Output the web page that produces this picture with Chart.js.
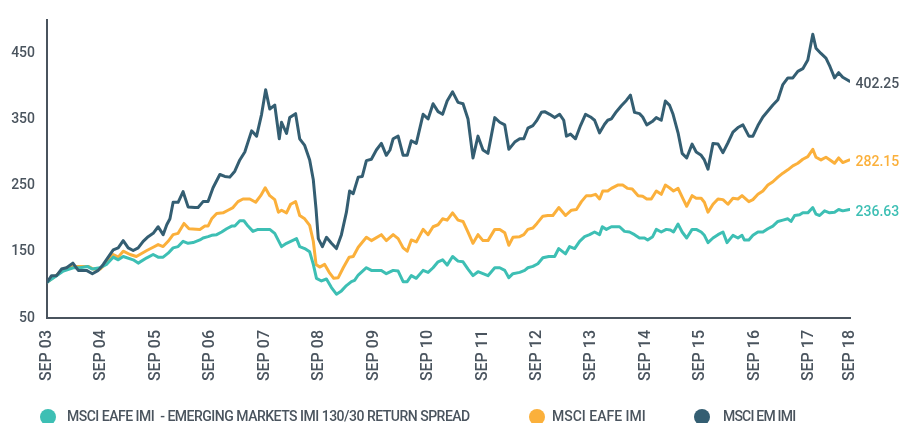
<!DOCTYPE html>
<html>
<head>
<meta charset="utf-8">
<script src="https://cdn.jsdelivr.net/npm/chart.js@4.4.1/dist/chart.umd.min.js"></script>
<style>
	html, body { margin: 0; padding: 0; background: #fff; }
	#wrap { position: relative; width: 903px; height: 423px; overflow: hidden; }
	#legend { position: absolute; left: 0; top: 408px; width: 903px; height: 16px; font: 500 14px Roboto, sans-serif; color: #4a545e; }
	.item { position: absolute; top: 0; height: 16px; line-height: 16px; white-space: pre; }
	.dot { position: absolute; top: 1px; width: 16px; height: 16px; border-radius: 50%; }
</style>
</head>
<body>
<div id="wrap">
	<canvas id="chart" width="903" height="423"></canvas>
	<div id="legend"></div>
</div>
<script>
// x values are months since Sep 2003
const tickMonths = [0, 12, 24, 36, 48, 60, 72, 84, 96, 108, 120, 132, 144, 156, 168, 177];
const tickLabels = ['SEP 03', 'SEP 04', 'SEP 05', 'SEP 06', 'SEP 07', 'SEP 08', 'SEP 09', 'SEP 10',
	'SEP 11', 'SEP 12', 'SEP 13', 'SEP 14', 'SEP 15', 'SEP 16', 'SEP 17', 'SEP 18'];
const yTicks = [50, 150, 250, 350, 450];

const seriesNames = ['MSCI EAFE IMI  - EMERGING MARKETS IMI 130/30 RETURN SPREAD', 'MSCI EAFE IMI', 'MSCI EM IMI'];
const endLabels = ['236.63', '282.15', '402.25'];

const spreadMonths = [0, 2.1, 3.6, 5.8, 7.3, 8.9, 10, 11.7, 13.1, 14.6,
	15.7, 16.8, 19, 20.1, 22, 23.4, 24.5, 25.6, 26.7, 27.8,
	28.9, 30, 31.1, 32.2, 33.7, 34.4, 35.5, 36.3, 37.4, 38.5,
	39.6, 40.7, 41.4, 42.5, 43.4, 44.3, 45.4, 46.5, 49.1, 50.2,
	51.7, 52.8, 55, 55.7, 56.8, 57.9, 58.7, 59.4, 60.5, 61.6,
	62.7, 63.8, 64.9, 66, 67.1, 67.8, 68.6, 70.4, 71.5, 73.7,
	74.8, 76.3, 77.4, 78.5, 79.4, 80.3, 81.4, 82.9, 84, 85.1,
	86.2, 87.2, 88.2, 89.4, 90.6, 91.7, 92.8, 93.9, 95, 96.1,
	97.2, 98.7, 99.8, 100.9, 101.8, 102.7, 104.2, 105.3, 106, 107.1,
	108.2, 109.3, 110.6, 111.9, 112.8, 114.3, 115.2, 116.3, 117.4, 118.5,
	119.6, 120.7, 121.8, 122.4, 123.3, 124.4, 126.2, 127.3, 128.4, 129.5,
	130.6, 131.7, 132.4, 133.5, 134.3, 135.4, 136.5, 137.4, 138.1, 139.1,
	140, 141, 142.2, 143.1, 144.2, 144.9, 145.7, 146.8, 147.9, 149,
	149.9, 151.2, 152.3, 153.2, 153.7, 154.7, 155.6, 156.7, 157.8, 158.9,
	160, 161.1, 162.2, 163.3, 164, 164.8, 165.9, 166.6, 167.7, 168.8,
	169.5, 170.3, 171.4, 172.5, 173.6, 174.5, 175.4, 176.9];
const spreadValues = [104, 114, 121, 126, 126, 128, 124, 126, 131, 142,
	138, 143, 138, 133, 141, 146, 142, 142, 148, 156,
	158, 166, 163, 164, 168, 171, 173, 175, 176, 180,
	185, 189, 189, 197, 197, 189, 181, 184, 184, 178,
	158, 163, 170, 158, 155, 150, 131, 110, 106, 109,
	96, 86, 91, 99, 105, 107, 115, 126, 122, 122,
	117, 122, 121, 105, 105, 114, 110, 122, 119, 126,
	135, 138, 130, 143, 136, 135, 124, 114, 120, 117,
	114, 126, 126, 122, 111, 117, 119, 122, 126, 128,
	132, 141, 143, 143, 155, 147, 158, 155, 166, 173,
	176, 180, 176, 188, 184, 188, 188, 181, 180, 176,
	171, 171, 168, 173, 184, 180, 184, 183, 180, 192,
	180, 171, 184, 184, 180, 175, 164, 171, 176, 180,
	164, 175, 171, 175, 168, 168, 175, 180, 180, 185,
	189, 196, 198, 200, 196, 205, 206, 209, 209, 217,
	207, 205, 212, 209, 210, 214, 212, 214];

const eafeMonths = [0, 1.4, 3.2, 4.3, 5.8, 9.1, 10.2, 11.7, 13.1, 14.6,
	15.7, 16.8, 18.3, 19.7, 22, 23.4, 24.5, 25.6, 26.7, 27.8,
	28.9, 30.2, 31.3, 33.7, 34.8, 35.5, 36.3, 37.4, 38.8, 39.9,
	41, 42.1, 43.2, 44.7, 46, 47.1, 48.1, 49.1, 50.2, 51,
	51.7, 52.8, 53.7, 54.8, 55.7, 56.8, 57.9, 58.7, 59.3, 60.1,
	61.2, 62.2, 63.2, 64.2, 65.3, 66.6, 67.5, 68.6, 70.4, 71.5,
	73.7, 74.8, 76.3, 77.4, 78.5, 79.4, 80.3, 81.4, 82.9, 84,
	85.1, 86.2, 87.2, 88.2, 89.4, 90.6, 91.7, 92.8, 93.9, 95,
	96.1, 97.2, 98.7, 99.8, 100.9, 101.8, 102.7, 104.2, 105.1, 106,
	107.1, 108, 109.3, 110.4, 111.5, 112.8, 114.3, 115.6, 116.7, 117.8,
	118.9, 120, 120.9, 121.8, 122.5, 123.6, 124.4, 125.8, 126.9, 128,
	129, 130.3, 131.3, 132.2, 133.2, 134.3, 135.4, 136.3, 137.2, 138.1,
	139.1, 140.2, 141, 142.2, 143.1, 144.2, 144.9, 145.7, 146.8, 147.9,
	149, 150.1, 151.2, 152.3, 153.2, 154.7, 155.6, 156.7, 157.8, 158.9,
	160, 161.1, 162.2, 163.3, 164.4, 165.5, 166.6, 167.7, 168.8, 169.5,
	170.6, 171.7, 172.6, 173.6, 174.5, 175.4, 176.9];
const eafeValues = [104, 111, 121, 126, 128, 128, 124, 124, 133, 146,
	142, 151, 146, 143, 152, 157, 161, 158, 166, 176,
	178, 193, 185, 184, 189, 189, 200, 208, 209, 213,
	217, 226, 230, 230, 225, 235, 247, 235, 229, 210,
	213, 209, 222, 226, 205, 200, 190, 166, 131, 127,
	131, 119, 110, 111, 126, 142, 143, 157, 172, 167,
	176, 167, 176, 170, 156, 151, 168, 165, 184, 176,
	188, 191, 200, 198, 209, 198, 196, 180, 163, 176,
	167, 167, 184, 184, 179, 160, 172, 173, 176, 184,
	186, 193, 204, 205, 205, 217, 205, 213, 214, 226,
	235, 235, 237, 230, 242, 242, 246, 251, 251, 246,
	245, 235, 234, 230, 230, 242, 237, 251, 247, 242,
	246, 230, 219, 235, 231, 231, 225, 210, 222, 230,
	229, 222, 231, 230, 235, 226, 229, 237, 242, 251,
	256, 263, 269, 274, 280, 284, 290, 294, 305, 293,
	289, 293, 289, 284, 292, 285, 289];

const emMonths = [0, 1, 2.1, 3.2, 4.3, 5.7, 6.9, 8.7, 10, 11.3,
	12.4, 13.5, 14.6, 15.7, 16.8, 17.9, 19, 20.1, 21.2, 22.3,
	23.4, 24.5, 25.6, 26.4, 27.1, 27.8, 28.9, 30, 31.1, 32.6,
	33.3, 34.4, 35.5, 36.6, 38.1, 39.2, 40.3, 41.4, 42.5, 43.6,
	45.1, 46.2, 47.3, 48.2, 49.1, 50.2, 51.2, 51.7, 52.8, 53.5,
	54.8, 55.7, 56.8, 57.9, 58.7, 59.3, 59.8, 60.7, 61.6, 62.7,
	63.8, 64.9, 66, 66.7, 67.5, 68.6, 69.5, 70.4, 71.5, 72.6,
	73.7, 74.8, 75.6, 76.3, 77.4, 78.5, 79.4, 80.3, 81.4, 82.9,
	84, 85.1, 86.2, 87.2, 88.2, 89.4, 90.6, 91.7, 92.8, 93.9,
	95, 96.1, 97.2, 98.7, 99.8, 100.9, 101.8, 103.1, 104.2, 105.1,
	106, 107.1, 107.9, 109, 109.7, 110.8, 111.9, 113, 113.9, 114.5,
	115.4, 116.5, 117.6, 118.7, 119.8, 120.7, 121.8, 122.9, 123.6, 124.4,
	125.5, 126.6, 127.7, 128.6, 129.5, 130.6, 131.3, 132.2, 133.4, 134.3,
	135.4, 136.3, 137.2, 138, 139.1, 140, 141, 142.2, 143.1, 144.2,
	144.9, 145.7, 146.8, 147.9, 149, 150.1, 151.2, 152.3, 153.4, 154.7,
	155.6, 156.7, 157.8, 158.9, 160, 161.1, 162.2, 163.3, 164.4, 165.5,
	166.6, 167.7, 168.8, 169.5, 170.6, 171.7, 172.6, 173.6, 174.5, 175.4,
	176.9];
const emValues = [104, 114, 114, 124, 126, 133, 122, 122, 117, 122,
	131, 142, 153, 156, 167, 156, 152, 156, 166, 173,
	178, 188, 176, 191, 200, 225, 225, 241, 218, 217,
	217, 226, 226, 247, 267, 264, 263, 272, 289, 301,
	333, 325, 358, 395, 366, 372, 321, 346, 329, 353,
	359, 321, 311, 289, 259, 215, 170, 158, 172, 163,
	155, 176, 210, 242, 238, 263, 264, 288, 290, 304,
	314, 296, 304, 321, 325, 296, 296, 318, 314, 358,
	351, 374, 362, 358, 378, 392, 376, 374, 351, 292,
	325, 304, 299, 353, 346, 342, 305, 316, 321, 321,
	337, 341, 348, 361, 362, 358, 353, 358, 349, 325,
	328, 321, 341, 358, 354, 349, 330, 343, 349, 351,
	362, 371, 379, 387, 361, 359, 354, 342, 347, 353,
	349, 378, 372, 358, 330, 299, 292, 313, 301, 296,
	289, 275, 314, 313, 300, 315, 331, 338, 342, 325,
	325, 341, 354, 363, 372, 380, 403, 413, 413, 423,
	427, 440, 479, 458, 450, 443, 430, 413, 421, 414,
	408];

const colors = ['#3dbfb4', '#fbb03b', '#345e72'];
const labelColors = ['#3dbfb4', '#fbb03b', '#4a545e'];
const textColor = '#4a545e';
const fontFamily = 'Roboto, sans-serif';

const toPoints = (xs, ys) => xs.map((x, i) => ({ x: x, y: ys[i] }));

// value labels at the end of each line
const endLabelPlugin = {
	id: 'endLabels',
	afterDatasetsDraw: (chart) => {
		const ctx = chart.ctx;
		ctx.save();
		ctx.font = '500 14px ' + fontFamily;
		ctx.textBaseline = 'middle';
		chart.data.datasets.forEach((ds, i) => {
			const pts = chart.getDatasetMeta(i).data;
			const last = pts[pts.length - 1];
			ctx.fillStyle = labelColors[i];
			ctx.fillText(endLabels[i], last.x + 6, last.y + 3);
		});
		ctx.restore();
	},
};

const chart = new Chart(document.getElementById('chart'), {
	type: 'line',
	data: {
		datasets: [
			{ label: seriesNames[0], data: toPoints(spreadMonths, spreadValues), borderColor: colors[0], order: 2 },
			{ label: seriesNames[1], data: toPoints(eafeMonths, eafeValues), borderColor: colors[1], order: 3 },
			{ label: seriesNames[2], data: toPoints(emMonths, emValues), borderColor: colors[2], order: 1 },
		],
	},
	options: {
		responsive: false,
		animation: false,
		layout: { padding: { top: 13, right: 53, left: 0, bottom: 0 } },
		elements: {
			point: { radius: 0 },
			line: { borderWidth: 3, tension: 0, borderJoinStyle: 'round', borderCapStyle: 'round' },
		},
		plugins: { legend: { display: false }, tooltip: { enabled: false } },
		scales: {
			x: {
				type: 'linear',
				min: 0,
				max: 177,
				afterBuildTicks: (scale) => { scale.ticks = tickMonths.map((v) => ({ value: v })); },
				afterFit: (scale) => { scale.height = 105; },
				grid: { display: false, drawTicks: false },
				border: { display: true, color: textColor, width: 2 },
				ticks: {
					autoSkip: false,
					minRotation: 90,
					maxRotation: 90,
					padding: 12,
					color: textColor,
					font: { family: fontFamily, size: 16, weight: '500' },
					callback: (value, index) => tickLabels[index],
				},
			},
			y: {
				min: 50,
				max: 500,
				afterBuildTicks: (scale) => { scale.ticks = yTicks.map((v) => ({ value: v })); },
				afterFit: (scale) => { scale.width = 47; },
				grid: { display: false, drawTicks: false },
				border: { display: true, color: textColor, width: 2 },
				ticks: {
					padding: 12,
					color: textColor,
					font: { family: fontFamily, size: 14, weight: '500' },
				},
			},
		},
	},
	plugins: [endLabelPlugin],
});

// legend below the chart
const legendPos = [
	{ dot: 40, text: 67, letter: '-0.5px' },
	{ dot: 529, text: 552, letter: '0px' },
	{ dot: 694, text: 723, letter: '-0.8px' },
];
const legend = document.getElementById('legend');
seriesNames.forEach((name, i) => {
	const dot = document.createElement('span');
	dot.className = 'dot';
	dot.style.left = legendPos[i].dot + 'px';
	dot.style.background = colors[i];
	const text = document.createElement('span');
	text.className = 'item';
	text.style.left = legendPos[i].text + 'px';
	text.style.letterSpacing = legendPos[i].letter;
	text.textContent = name;
	legend.append(dot, text);
});
</script>
</body>
</html>
